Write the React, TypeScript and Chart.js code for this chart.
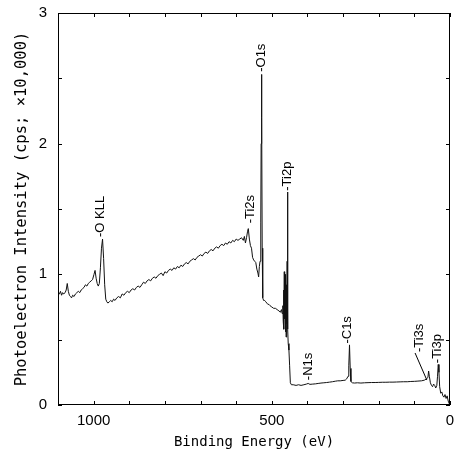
import React, { useEffect, useRef } from "react";
import { Chart, registerables } from "chart.js";

Chart.register(...registerables);

// Binding energy (eV) and intensity (cps x 10,000)
const energies = [
  1100, 1096, 1093, 1090, 1087, 1084, 1080, 1077, 1074, 1071, 1068, 1065, 1062, 1059, 1055, 1051, 1047, 1043, 1039, 1035,
  1031, 1027, 1023, 1019, 1015, 1011, 1007, 1003, 999, 996, 993, 990, 987, 984, 981, 978, 975, 972, 969, 966,
  963, 960, 956, 952, 948, 944, 940, 935, 930, 925, 920, 915, 910, 905, 900, 895, 890, 885, 880, 875,
  870, 865, 860, 855, 850, 845, 840, 835, 830, 825, 820, 815, 810, 805, 800, 795, 790, 785, 780, 775,
  770, 765, 760, 755, 750, 745, 740, 735, 730, 725, 720, 715, 710, 705, 700, 695, 690, 685, 680, 675,
  670, 665, 660, 655, 650, 645, 640, 635, 630, 625, 620, 615, 610, 605, 600, 595, 590, 585, 580, 577,
  574, 571, 568, 566, 563, 560, 557, 554, 551, 548, 545, 542, 539, 537, 535, 533, 531, 530, 529, 528,
  527, 526, 525, 523, 520, 517, 514, 511, 508, 505, 500, 495, 490, 485, 480, 476, 473, 471, 469, 468,
  467, 466, 465, 464, 463, 462, 461, 460, 459, 458, 457, 456, 455, 454, 452, 450, 448, 445, 440, 432,
  425, 418, 410, 403, 398, 393, 385, 377, 370, 362, 354, 346, 338, 330, 322, 315, 308, 300, 294, 290,
  286, 284, 282, 280, 278, 274, 268, 260, 250, 240, 230, 220, 210, 200, 190, 180, 170, 160, 150, 140,
  130, 120, 110, 100, 90, 80, 72, 66, 62, 60, 58, 55, 52, 49, 46, 43, 40, 37, 35, 33,
  31, 29, 26, 23, 20, 17, 14, 11, 8, 5, 2, 0,
];
const intensities = [
  0.86, 0.85, 0.87, 0.84, 0.86, 0.85, 0.86, 0.88, 0.93, 0.87, 0.84, 0.83, 0.82, 0.84, 0.83, 0.85, 0.86, 0.87, 0.86, 0.88,
  0.89, 0.9, 0.92, 0.91, 0.93, 0.94, 0.95, 0.96, 1.0, 1.03, 0.97, 0.93, 0.91, 0.93, 1.05, 1.2, 1.27, 1.12, 0.92, 0.81,
  0.79, 0.78, 0.79, 0.8, 0.79, 0.81, 0.8, 0.82, 0.83, 0.82, 0.85, 0.84, 0.86, 0.87, 0.86, 0.88, 0.89, 0.88, 0.9, 0.91,
  0.9, 0.92, 0.94, 0.93, 0.95, 0.96, 0.95, 0.97, 0.98, 0.97, 0.99, 1.0, 1.01, 0.99, 1.02, 1.01, 1.03, 1.04, 1.03, 1.05,
  1.04, 1.06, 1.05, 1.07, 1.06, 1.08, 1.09, 1.08, 1.1, 1.11, 1.12, 1.11, 1.13, 1.14, 1.15, 1.14, 1.16, 1.17, 1.16, 1.18,
  1.19, 1.18, 1.2, 1.21, 1.2, 1.22, 1.23, 1.22, 1.24, 1.23, 1.25, 1.24, 1.26, 1.25, 1.27, 1.26, 1.27, 1.28, 1.26, 1.29,
  1.24, 1.28, 1.33, 1.35, 1.27, 1.22, 1.2, 1.13, 1.11, 1.1, 1.09, 1.04, 1.01, 0.98, 1.06, 1.1, 1.4, 2.0, 2.53, 2.2,
  1.2, 0.9, 0.82, 0.8, 0.8, 0.79, 0.78, 0.77, 0.77, 0.76, 0.75, 0.74, 0.74, 0.73, 0.72, 0.71, 0.73, 0.7, 0.76, 0.64,
  0.88, 0.58, 1.02, 0.66, 0.95, 0.56, 1.0, 0.52, 0.92, 0.62, 1.1, 1.63, 0.58, 0.47, 0.42, 0.3, 0.17, 0.155, 0.155, 0.15,
  0.155, 0.15, 0.155, 0.16, 0.165, 0.158, 0.16, 0.162, 0.165, 0.168, 0.17, 0.172, 0.175, 0.178, 0.182, 0.185, 0.185, 0.188, 0.19, 0.2,
  0.22, 0.3, 0.46, 0.28, 0.18, 0.17, 0.168, 0.17, 0.168, 0.17, 0.171, 0.172, 0.172, 0.173, 0.174, 0.174, 0.175, 0.175, 0.176, 0.177,
  0.178, 0.178, 0.18, 0.181, 0.183, 0.185, 0.19, 0.2, 0.21, 0.26, 0.22, 0.17, 0.15, 0.14, 0.16, 0.15, 0.13, 0.15, 0.22, 0.31,
  0.25, 0.14, 0.09, 0.1, 0.07, 0.06, 0.08, 0.05, 0.07, 0.03, 0.01, 0.0,
];

// Peak labels: text and the (energy, intensity) where the text begins
const peakLabels = ["-O KLL", "-Ti2s", "-O1s", "-Ti2p", "-N1s", "-C1s", "-Ti3s", "-Ti3p"];
const labelEnergy = [982, 561, 530, 455, 398, 289, 86, 35];
const labelIntensity = [1.286, 1.39, 2.55, 1.64, 0.19, 0.47, 0.405, 0.32];

// Leader line from the Ti3s label to its peak
const leaderEnergy = [98, 65];
const leaderIntensity = [0.398, 0.191];

const xMajor = [1000, 500, 0];
const yMajor = [0, 1, 2, 3];

const xTitle = "Binding Energy (eV)";
const yTitle = "Photoelectron Intensity (cps; \u00d710,000)";

const tickFont = "'Liberation Sans', Arial, sans-serif";
const titleFont = "'DejaVu Sans Mono', monospace";

const framePlugin = {
  id: "frameAndLabels",
  afterDraw(chart: any) {
    const { ctx, chartArea } = chart;
    const xs = chart.scales.x;
    const ys = chart.scales.y;
    const { left, right, top, bottom } = chartArea;
    ctx.save();
    ctx.strokeStyle = "#000";
    ctx.lineWidth = 1;
    ctx.strokeRect(left + 0.5, top + 0.5, right - left - 1, bottom - top - 1);
    const tl = 4;
    ctx.beginPath();
    for (let e = 0; e <= 1100; e += 100) {
      const px = Math.round(xs.getPixelForValue(e)) + 0.5;
      ctx.moveTo(px, bottom);
      ctx.lineTo(px, bottom - tl);
      ctx.moveTo(px, top);
      ctx.lineTo(px, top + tl);
    }
    for (let v = 0; v <= 3; v += 0.5) {
      const py = Math.round(ys.getPixelForValue(v)) + 0.5;
      ctx.moveTo(left, py);
      ctx.lineTo(left + tl, py);
      ctx.moveTo(right, py);
      ctx.lineTo(right - tl, py);
    }
    ctx.stroke();

    // leader line
    ctx.beginPath();
    ctx.moveTo(xs.getPixelForValue(leaderEnergy[0]), ys.getPixelForValue(leaderIntensity[0]));
    ctx.lineTo(xs.getPixelForValue(leaderEnergy[1]), ys.getPixelForValue(leaderIntensity[1]));
    ctx.stroke();

    ctx.fillStyle = "#000";
    ctx.font = `13px ${tickFont}`;
    ctx.textAlign = "left";
    ctx.textBaseline = "middle";
    peakLabels.forEach((t, i) => {
      const px = xs.getPixelForValue(labelEnergy[i]);
      const py = ys.getPixelForValue(labelIntensity[i]);
      ctx.save();
      ctx.translate(px, py);
      ctx.rotate(-Math.PI / 2);
      ctx.fillText(t, 0, 0);
      ctx.restore();
    });
    ctx.restore();
  },
};

export default function App() {
  const ref = useRef<HTMLCanvasElement | null>(null);
  useEffect(() => {
    if (!ref.current) return;
    const points = energies.map((x, i) => ({ x, y: intensities[i] }));
    const chart = new Chart(ref.current, {
      type: "line",
      data: {
        datasets: [
          {
            data: points,
            borderColor: "#111",
            borderWidth: 1,
            pointRadius: 0,
            tension: 0,
            fill: false,
          },
        ],
      },
      options: {
        animation: false,
        responsive: false,
        events: [],
        layout: { padding: { top: 13, right: 5, left: 0, bottom: 0 } },
        plugins: { legend: { display: false }, tooltip: { enabled: false } },
        scales: {
          x: {
            type: "linear",
            reverse: true,
            min: 0,
            max: 1100,
            grid: { display: false, drawTicks: false },
            border: { display: false },
            afterBuildTicks: (s: any) => {
              s.ticks = xMajor.map((v) => ({ value: v }));
            },
            ticks: {
              autoSkip: false,
              maxRotation: 0,
              padding: 7,
              color: "#000",
              font: { family: tickFont, size: 15 },
              callback: (v: any) => String(v),
            },
            title: {
              display: true,
              text: xTitle,
              color: "#000",
              font: { family: titleFont, size: 14 },
              padding: { top: 0, bottom: 10 },
            },
            afterFit: (s: any) => {
              s.height = 56;
              s.paddingLeft = 0;
              s.paddingRight = 0;
            },
          },
          y: {
            min: 0,
            max: 3,
            grid: { display: false, drawTicks: false },
            border: { display: false },
            afterBuildTicks: (s: any) => {
              s.ticks = yMajor.map((v) => ({ value: v }));
            },
            ticks: {
              padding: 11,
              color: "#000",
              font: { family: tickFont, size: 15 },
              callback: (v: any) => String(v),
            },
            title: {
              display: true,
              text: yTitle,
              color: "#000",
              font: { family: titleFont, size: 15.5 },
              padding: { top: 13, bottom: 0 },
            },
            afterFit: (s: any) => {
              s.width = 58;
              s.paddingTop = 0;
              s.paddingBottom = 0;
            },
          },
        },
      },
      plugins: [framePlugin],
    });
    return () => chart.destroy();
  }, []);
  return (
    <div style={{ position: "absolute", left: 0, top: 0, width: 455, height: 461, background: "#fff" }}>
      <canvas ref={ref} width={455} height={461} style={{ display: "block" }} />
    </div>
  );
}
